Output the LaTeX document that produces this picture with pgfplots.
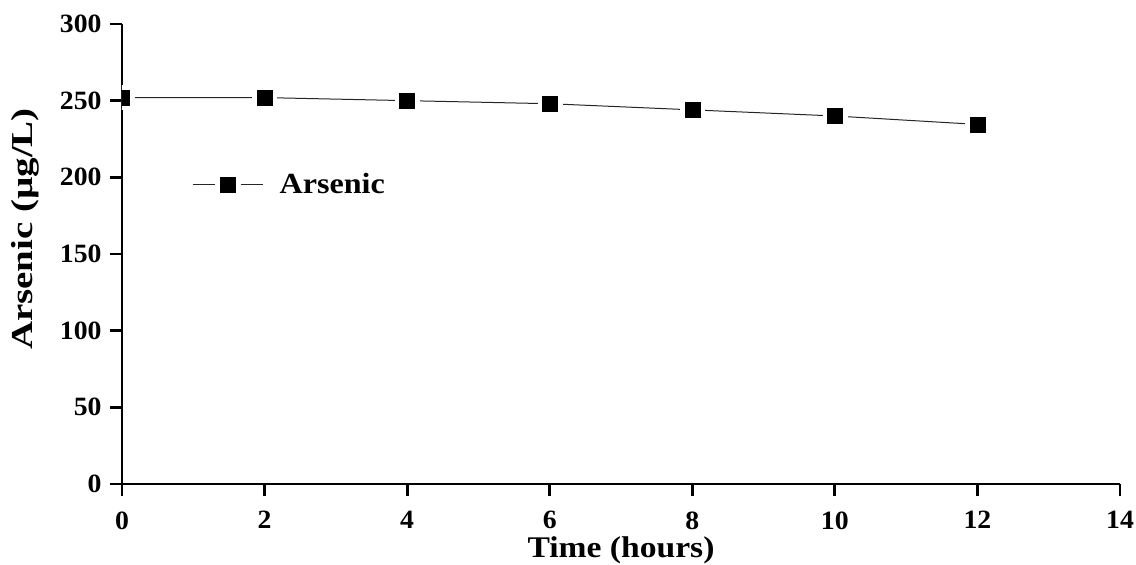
\documentclass[border=0pt]{standalone}
\usepackage{fontspec}
\setmainfont{Liberation Serif}
\usepackage{graphicx}
\usepackage{pgfplots}
\pgfplotsset{compat=1.18}
\begin{document}
\begin{tikzpicture}
\begin{axis}[
  scale only axis,
  width=499pt, height=230pt,
  xmin=0, xmax=14, ymin=0, ymax=300,
  axis x line=bottom, axis y line=left,
  axis line style={-, line width=1.4pt},
  xtick={0,2,...,14}, ytick={0,50,...,300},
  tick align=outside,
  major tick length=6.2pt,
  tick style={line width=1.4pt, black},
  minor tick num=0,
  /pgf/number format/assume math mode=true,
  tick label style={font=\bfseries\fontsize{13.2}{15}\selectfont},
  xticklabel={\textbf{\scalebox{1.05}[1]{\pgfmathprintnumber{\tick}}}},
  yticklabel={\textbf{\scalebox{1.05}[1]{\pgfmathprintnumber{\tick}}}},
  xticklabel style={yshift=-4.0pt},
  yticklabel style={xshift=-0.5pt},
  xlabel={\scalebox{1.12}[1]{Time (hours)}},
  ylabel={\scalebox{1.28}[1]{Arsenic (µg/L)}},
  xlabel style={font=\bfseries\fontsize{15}{17}\selectfont,
    at={(axis description cs:0.5,0)}, anchor=base, yshift=-37pt},
  ylabel style={font=\bfseries\fontsize{15.2}{17}\selectfont,
    at={(axis description cs:0,0.5)}, anchor=center, yshift=48.5pt, xshift=12.5pt},
  clip marker paths=true,
  legend style={draw=none, fill=none, at={(axis description cs:0.07,0.65)}, anchor=west,
    font=\bfseries\fontsize{14.6}{17}\selectfont, inner sep=0pt},
  legend cell align=left,
  legend image code/.code={
    \draw[line width=0.5pt, black!85] (0pt,0pt) -- (11pt,0pt);
    \draw[line width=0.5pt, black!85] (24pt,0pt) -- (35pt,0pt);
    \fill[black] (13.75pt,-3.75pt) rectangle (21.25pt,3.75pt);
    \path (41.2pt,0pt);
  },
]
\addplot[line width=0.5pt, black!85, no marks] coordinates {
 (0,252) (2,252) (4,250) (6,248) (8,244) (10,240) (12,234.5)
};
\addlegendentry{\scalebox{1.1}[1]{Arsenic}}
\addplot[forget plot, only marks, mark=square*, mark size=6pt, mark options={fill=white, draw=white, line width=0.2pt}] coordinates {
 (0,252) (2,252) (4,250) (6,248) (8,244) (10,240) (12,234.5)
};
\addplot[forget plot, only marks, mark=square*, mark size=3.75pt, mark options={fill=black, draw=black, line width=0.2pt}] coordinates {
 (0,252) (2,252) (4,250) (6,248) (8,244) (10,240) (12,234.5)
};
\end{axis}
\pgfresetboundingbox
\path ([shift={(-61pt,-40.5pt)}]current axis.south west) rectangle ([shift={(8pt,12pt)}]current axis.north east);
\end{tikzpicture}
\end{document}
